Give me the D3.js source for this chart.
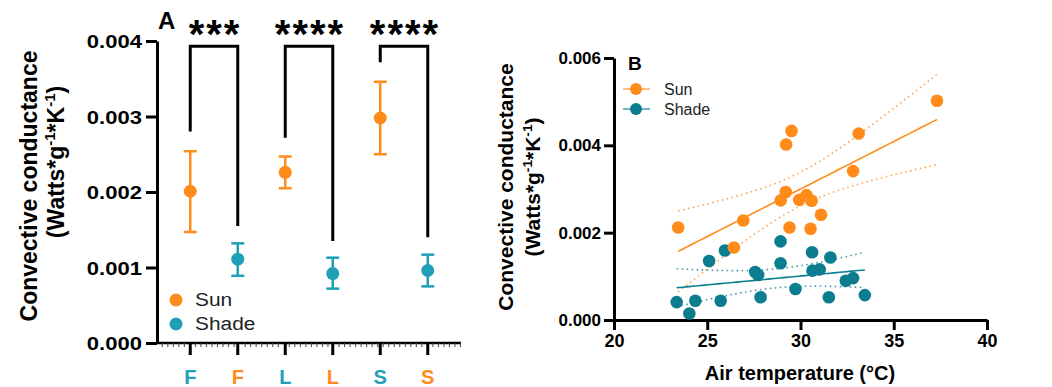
<!DOCTYPE html>
<html>
<head>
<meta charset="utf-8">
<script src="https://cdn.jsdelivr.net/npm/d3@7/dist/d3.min.js"></script>
<style>
  body { margin: 0; background: #fff; }
  svg { display: block; font-family: "Liberation Sans", Arial, sans-serif; }
</style>
</head>
<body>
<div id="chart"></div>
<script>
const ORANGE = "#ff8c1a";
const TEAL_A = "#1fa0b6";
const TEAL_B = "#0c7d8f";

// ---- panel A : means with error bars
const groupLabels = ["F", "F", "L", "L", "S", "S"];
const labelColors = [TEAL_A, ORANGE, TEAL_A, ORANGE, TEAL_A, ORANGE];
const sunMean = [0.00201, 0.00226, 0.00298];
const sunLow = [0.00147, 0.00205, 0.00250];
const sunHigh = [0.00254, 0.00247, 0.00346];
const shadeMean = [0.00111, 0.00092, 0.00096];
const shadeLow = [0.00089, 0.00072, 0.00075];
const shadeHigh = [0.00132, 0.00113, 0.00117];
const stars = ["***", "****", "****"];
const bracketTop = 0.00393;
const bracketLeftEnd = [0.00280, 0.00272, 0.00372];
const bracketRightEnd = [0.00155, 0.00135, 0.00140];
const yTicksA = [0, 0.001, 0.002, 0.003, 0.004];

// ---- panel B : scatter vs air temperature
const sunTemp = [23.44, 26.43, 26.93, 28.94, 29.21, 29.41, 29.23, 29.52, 29.93, 30.32, 30.60, 30.54, 31.10, 32.82, 33.12, 37.32];
const sunCond = [0.00212, 0.00166, 0.00228, 0.00274, 0.00293, 0.00212, 0.00402, 0.00433, 0.00275, 0.00286, 0.00273, 0.00209, 0.00241, 0.00341, 0.00427, 0.00502];
const shadeTemp = [23.36, 24.04, 24.36, 25.10, 25.72, 25.95, 27.57, 27.73, 27.86, 28.93, 28.93, 29.73, 30.62, 30.64, 31.03, 31.52, 31.60, 32.43, 32.82, 33.45];
const shadeCond = [0.00041, 0.00015, 0.00044, 0.00135, 0.00044, 0.00159, 0.00110, 0.00103, 0.00052, 0.00180, 0.00130, 0.00071, 0.00155, 0.00113, 0.00116, 0.00052, 0.00143, 0.00090, 0.00096, 0.00057];
const xTicksB = [20, 25, 30, 35, 40];
const yTicksB = [0, 0.002, 0.004, 0.006];
// two-sided 95% t values for n-2 degrees of freedom
const tSun = 2.145, tShade = 2.101;

const svg = d3.select("#chart").append("svg")
    .attr("width", 1052)
    .attr("height", 387);

// wide-looking text in panel A
const SX = 1.16;

// ================= PANEL A =================
const xA = d3.scaleLinear().domain([-0.7, 5.7]).range([157, 461]);
const yA = d3.scaleLinear().domain([0, 0.004]).range([343, 41]);

const gA = svg.append("g");

// y axis
const yAxisA = gA.append("g")
    .attr("transform", "translate(157,0)")
    .call(d3.axisLeft(yA).tickValues(yTicksA).tickFormat(d3.format(".3f")).tickSize(11).tickSizeOuter(0));
yAxisA.select(".domain").attr("stroke-width", 3).attr("stroke", "#000");
yAxisA.selectAll(".tick line").attr("stroke-width", 3);
yAxisA.selectAll(".tick text")
    .attr("x", -15 / SX)
    .attr("dy", "0.35em")
    .attr("transform", `scale(${SX},1)`)
    .attr("font-size", 19)
    .attr("font-weight", "bold")
    .attr("fill", "#000")
    .attr("font-family", "Liberation Sans, Arial, sans-serif");

// x axis (line, minor + major ticks)
gA.append("line")
    .attr("x1", xA(-0.7)).attr("x2", xA(5.7))
    .attr("y1", yA(0)).attr("y2", yA(0))
    .attr("stroke", "#000").attr("stroke-width", 2.5);
const minor = d3.range(-0.7 + 1 / 9, 5.7, 1 / 8.6).filter(v => Math.abs(v - Math.round(v)) > 0.05);
gA.selectAll("line.minor").data(minor).enter().append("line")
    .attr("class", "minor")
    .attr("x1", d => xA(d)).attr("x2", d => xA(d))
    .attr("y1", yA(0)).attr("y2", yA(0) + 4)
    .attr("stroke", "#444").attr("stroke-width", 1);
gA.selectAll("line.major").data(groupLabels).enter().append("line")
    .attr("class", "major")
    .attr("x1", (d, i) => xA(i)).attr("x2", (d, i) => xA(i))
    .attr("y1", yA(0)).attr("y2", yA(0) + 12)
    .attr("stroke", "#000").attr("stroke-width", 3);
gA.selectAll("text.grp").data(groupLabels).enter().append("text")
    .attr("class", "grp")
    .attr("x", (d, i) => xA(i)).attr("y", 384)
    .attr("text-anchor", "middle")
    .attr("font-size", 20).attr("font-weight", "bold")
    .attr("fill", (d, i) => labelColors[i])
    .text(d => d);

// brackets and stars
stars.forEach((s, k) => {
    const x1 = xA(2 * k), x2 = xA(2 * k + 1);
    gA.append("path")
        .attr("d", d3.line()([[x1, yA(bracketLeftEnd[k])], [x1, yA(bracketTop)], [x2, yA(bracketTop)], [x2, yA(bracketRightEnd[k])]]))
        .attr("fill", "none").attr("stroke", "#000").attr("stroke-width", 3);
    gA.append("text")
        .attr("x", (x1 + x2) / 2 + 1).attr("y", 48)
        .attr("text-anchor", "middle")
        .attr("font-size", 40).attr("font-weight", "bold")
        .attr("letter-spacing", 2)
        .text(s);
});

// error bars + points
function errorBars(means, lows, highs, offset, color) {
    means.forEach((m, k) => {
        const x = xA(2 * k + offset);
        const g = gA.append("g").attr("stroke", color).attr("stroke-width", 2.5);
        g.append("line").attr("x1", x).attr("x2", x).attr("y1", yA(lows[k])).attr("y2", yA(highs[k]));
        g.append("line").attr("x1", x - 6.5).attr("x2", x + 6.5).attr("y1", yA(lows[k])).attr("y2", yA(lows[k]));
        g.append("line").attr("x1", x - 6.5).attr("x2", x + 6.5).attr("y1", yA(highs[k])).attr("y2", yA(highs[k]));
        gA.append("circle").attr("cx", x).attr("cy", yA(m)).attr("r", 6.5).attr("fill", color);
    });
}
errorBars(sunMean, sunLow, sunHigh, 0, ORANGE);
errorBars(shadeMean, shadeLow, shadeHigh, 1, TEAL_A);

// legend A
[["Sun", ORANGE], ["Shade", TEAL_A]].forEach(([name, c], i) => {
    gA.append("circle").attr("cx", 176).attr("cy", 300 + i * 24).attr("r", 6.5).attr("fill", c);
    gA.append("text")
        .attr("transform", `translate(195,${306 + i * 24}) scale(${SX},1)`)
        .attr("font-size", 18).attr("fill", "#222")
        .text(name);
});

gA.append("text").attr("x", 158).attr("y", 29)
    .attr("font-size", 24).attr("font-weight", "bold").text("A");

function yTitle(g, x1, c1, x2, c2, size) {
    g.append("text")
        .attr("transform", `translate(${x1},${c1}) rotate(-90)`)
        .attr("text-anchor", "middle").attr("font-size", size).attr("font-weight", "bold")
        .text("Convective conductance");
    const t = g.append("text")
        .attr("transform", `translate(${x2},${c2}) rotate(-90)`)
        .attr("text-anchor", "middle").attr("font-size", size).attr("font-weight", "bold");
    t.append("tspan").text("(Watts*g");
    t.append("tspan").attr("dy", -size * 0.4).attr("font-size", size * 0.65).text("-1");
    t.append("tspan").attr("dy", size * 0.4).text("*K");
    t.append("tspan").attr("dy", -size * 0.4).attr("font-size", size * 0.65).text("-1");
    t.append("tspan").attr("dy", size * 0.4).text(")");
}
yTitle(gA, 37, 186, 64, 162, 23);

// ================= PANEL B =================
const xB = d3.scaleLinear().domain([20, 40]).range([614, 987]);
const yB = d3.scaleLinear().domain([0, 0.006]).range([320, 58]);
const gB = svg.append("g");

const yAxisB = gB.append("g")
    .attr("transform", "translate(614,0)")
    .call(d3.axisLeft(yB).tickValues(yTicksB).tickFormat(d3.format(".3f")).tickSize(10).tickSizeOuter(0));
const xAxisB = gB.append("g")
    .attr("transform", "translate(0,320)")
    .call(d3.axisBottom(xB).tickValues(xTicksB).tickSize(10).tickSizeOuter(0));
[yAxisB, xAxisB].forEach(ax => {
    ax.select(".domain").attr("stroke-width", 3).attr("stroke", "#000");
    ax.selectAll(".tick line").attr("stroke-width", 3);
    ax.selectAll(".tick text").attr("font-weight", "bold").attr("fill", "#000")
        .attr("font-family", "Liberation Sans, Arial, sans-serif");
});
yAxisB.selectAll(".tick text").attr("font-size", 17).attr("x", -13);
xAxisB.selectAll(".tick text").attr("font-size", 18).attr("y", 14);

gB.append("text").attr("x", 800).attr("y", 380)
    .attr("text-anchor", "middle").attr("font-size", 20).attr("font-weight", "bold")
    .text("Air temperature (°C)");
yTitle(gB, 513, 187, 540, 187, 21);

// linear fit with 95% confidence band
function fit(xs, ys, t) {
    const n = xs.length, mx = d3.mean(xs), my = d3.mean(ys);
    const sxx = d3.sum(xs, x => (x - mx) ** 2);
    const sxy = d3.sum(xs, (x, i) => (x - mx) * (ys[i] - my));
    const b = sxy / sxx, a = my - b * mx;
    const s = Math.sqrt(d3.sum(xs, (x, i) => (ys[i] - a - b * x) ** 2) / (n - 2));
    const [lo, hi] = d3.extent(xs);
    return d3.range(0, 61).map(i => {
        const x = lo + (hi - lo) * i / 60;
        const yh = a + b * x;
        const se = s * Math.sqrt(1 / n + (x - mx) ** 2 / sxx);
        return { x: x, y: yh, lo: yh - t * se, hi: yh + t * se };
    });
}

function drawFit(xs, ys, t, color) {
    const f = fit(xs, ys, t);
    const line = key => d3.line().x(d => xB(d.x)).y(d => yB(d[key]));
    gB.append("path").attr("d", line("y")(f)).attr("fill", "none")
        .attr("stroke", color).attr("stroke-width", 1.6);
    ["lo", "hi"].forEach(k => {
        gB.append("path").attr("d", line(k)(f)).attr("fill", "none")
            .attr("stroke", color).attr("stroke-width", 1.6)
            .attr("stroke-dasharray", "1.5 3.5").attr("opacity", 0.8);
    });
}
drawFit(sunTemp, sunCond, tSun, ORANGE);
drawFit(shadeTemp, shadeCond, tShade, TEAL_B);

gB.selectAll("circle.shade").data(shadeTemp).enter().append("circle")
    .attr("class", "shade")
    .attr("cx", d => xB(d)).attr("cy", (d, i) => yB(shadeCond[i]))
    .attr("r", 6.3).attr("fill", TEAL_B);
gB.selectAll("circle.sun").data(sunTemp).enter().append("circle")
    .attr("class", "sun")
    .attr("cx", d => xB(d)).attr("cy", (d, i) => yB(sunCond[i]))
    .attr("r", 6.3).attr("fill", ORANGE);

// legend B
gB.append("text").attr("x", 628).attr("y", 70)
    .attr("font-size", 19).attr("font-weight", "bold").text("B");
[["Sun", ORANGE], ["Shade", TEAL_B]].forEach(([name, c], i) => {
    const y = 89 + i * 20;
    gB.append("line").attr("x1", 623).attr("x2", 650).attr("y1", y).attr("y2", y)
        .attr("stroke", c).attr("stroke-width", 1.6).attr("opacity", 0.7);
    gB.append("circle").attr("cx", 636).attr("cy", y).attr("r", 6).attr("fill", c);
    gB.append("text").attr("x", 664).attr("y", y + 6)
        .attr("font-size", 16).attr("fill", "#222").text(name);
});
</script>
</body>
</html>
